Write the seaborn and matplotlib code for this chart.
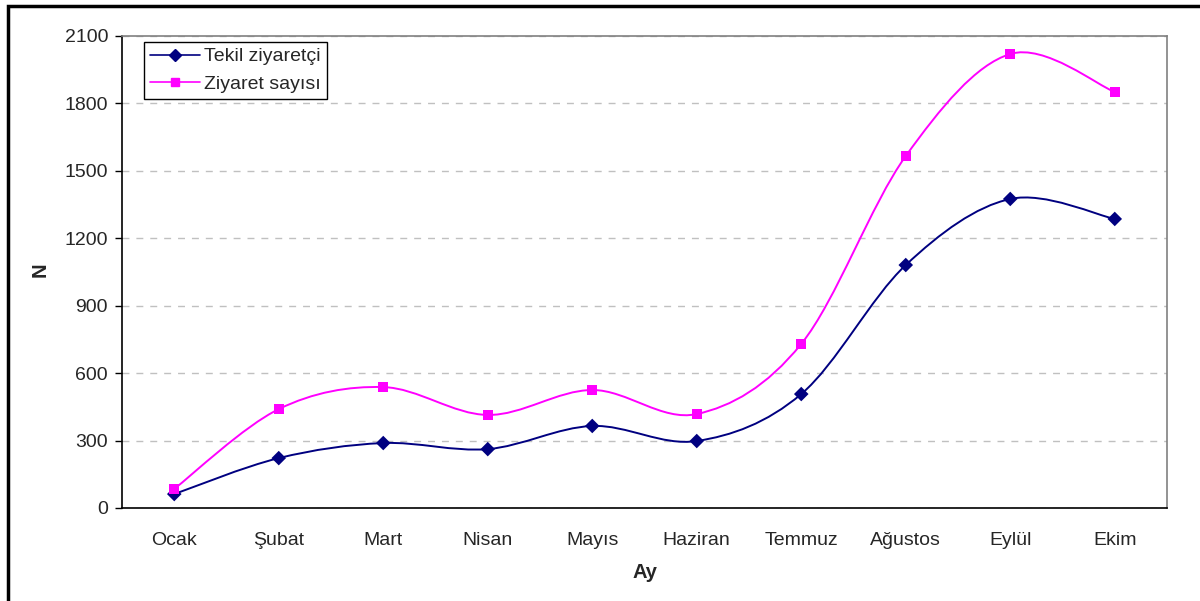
import numpy as np
import pandas as pd
import matplotlib
matplotlib.use("Agg")
import matplotlib.pyplot as plt
from matplotlib.path import Path
from matplotlib.patches import PathPatch, Rectangle
from matplotlib.lines import Line2D
import seaborn as sns

months = ["Ocak", "Şubat", "Mart", "Nisan", "Mayıs", "Haziran", "Temmuz", "Ağustos", "Eylül", "Ekim"]
tekil = [62, 222, 289, 262, 365, 298, 507, 1081, 1375, 1286]
ziyaret = [85, 440, 538, 414, 525, 418, 730, 1566, 2020, 1851]
y_ticks = [0, 300, 600, 900, 1200, 1500, 1800, 2100]

sns.set_style("white")
plt.rcParams["font.family"] = ["Liberation Sans", "DejaVu Sans"]

df = pd.DataFrame({"Ay": months * 2,
                   "x": list(range(len(months))) * 2,
                   "N": tekil + ziyaret,
                   "seri": ["Tekil ziyaretçi"] * len(months) + ["Ziyaret sayısı"] * len(months)})


def smooth_path(xs, ys):
    # excel-like smoothed line: bezier segments with catmull-rom control points
    pts = np.column_stack([xs, ys]).astype(float)
    verts = [pts[0]]
    codes = [Path.MOVETO]
    n = len(pts)
    for i in range(n - 1):
        p0 = pts[i - 1] if i > 0 else pts[i]
        p1 = pts[i]
        p2 = pts[i + 1]
        p3 = pts[i + 2] if i + 2 < n else pts[i + 1]
        c1 = p1 + (p2 - p0) / 6
        c2 = p2 - (p3 - p1) / 6
        verts += [c1, c2, p2]
        codes += [Path.CURVE4] * 3
    return Path(verts, codes)


fig = plt.figure(figsize=(12, 6.01), dpi=100)
ax = fig.add_axes([122 / 1200, 1 - 508 / 601, (1167 - 122) / 1200, (508 - 36) / 601])

# outer chart border (only top and left visible in the crop)
fig.patches.append(Rectangle((8 / 1200, -0.05), 1.1, 1 - 6 / 601 + 0.05, transform=fig.transFigure,
                             fill=False, edgecolor="black", linewidth=2.5, zorder=0))

colors = {"Tekil ziyaretçi": "#000080", "Ziyaret sayısı": "#FF00FF"}
markers = {"Tekil ziyaretçi": "D", "Ziyaret sayısı": "s"}

for name, vals in [("Tekil ziyaretçi", tekil), ("Ziyaret sayısı", ziyaret)]:
    ax.add_patch(PathPatch(smooth_path(range(len(months)), vals), fill=False,
                           edgecolor=colors[name], linewidth=1.4, zorder=3))

sns.scatterplot(data=df, x="x", y="N", hue="seri", style="seri", palette=colors, markers=markers,
                s=55, edgecolor="none", legend=False, ax=ax, zorder=4)

ax.set_xlim(-0.5, len(months) - 0.5)
ax.set_ylim(0, 2100)
ax.set_yticks(y_ticks)
ax.set_xticks(range(len(months)))
ax.set_xticklabels(months)
ax.tick_params(axis="x", length=0, pad=17, labelsize=14)
ax.tick_params(axis="y", length=5, width=1, color="black", left=True, direction="out", pad=5, labelsize=14)
ax.yaxis.grid(True, linestyle=(0, (5, 5)), color="#C0C0C0", linewidth=1)
ax.set_axisbelow(True)

for side in ["top", "right"]:
    ax.spines[side].set_color("#808080")
    ax.spines[side].set_linewidth(1.2)
for side in ["left", "bottom"]:
    ax.spines[side].set_color("black")
    ax.spines[side].set_linewidth(1.2)

ax.set_xlabel("Ay", fontweight="bold", fontsize=14.5)
ax.set_ylabel("N", fontweight="bold", fontsize=14.5)
ax.xaxis.set_label_coords((645 - 122) / 1045, (508 - 572) / 472)
ax.yaxis.set_label_coords((40 - 122) / 1045, (508 - 270) / 472)
ax.xaxis.label.set_va("center")
ax.yaxis.label.set_va("center")

handles = [Line2D([], [], color=colors[k], marker=markers[k], markersize=6,
                  linewidth=1.2, label=k) for k in colors]
leg = ax.legend(handles=handles, loc="upper left", bbox_to_anchor=((144 - 122) / 1045, (508 - 42) / 472),
                fontsize=14, frameon=True, fancybox=False, edgecolor="black", framealpha=1,
                handlelength=2.6, handletextpad=0.2, borderpad=0.3, borderaxespad=0,
                labelspacing=0.5)
leg.get_frame().set_linewidth(1)

fig.savefig("out.png", dpi=100)
